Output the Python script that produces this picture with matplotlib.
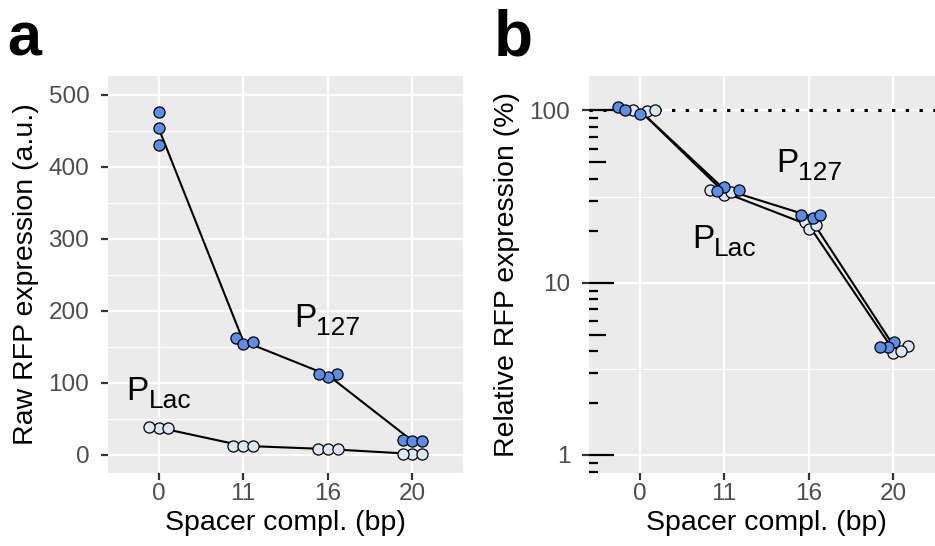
import numpy as np
import matplotlib.pyplot as plt
from matplotlib import transforms
from matplotlib.ticker import MultipleLocator, NullFormatter

plt.rcParams['font.family'] = ['Liberation Sans', 'DejaVu Sans']

# values (three replicates per spacer length)
spacer = ["0", "11", "16", "20"]
p127_raw = [[476, 454, 430], [163, 154, 157], [112.5, 108, 112.5], [20.4, 19.2, 19.3]]
plac_raw = [[37.8, 38.0, 38.2], [13.1, 12.2, 12.8], [8.6, 7.8, 8.2], [1.49, 1.62, 1.52]]

# relative expression = % of the mean at 0 bp
p127_rel = [[v / np.mean(p127_raw[0]) * 100 for v in reps] for reps in p127_raw]
plac_rel = [[v / np.mean(plac_raw[0]) * 100 for v in reps] for reps in plac_raw]

blue = '#5b8ee6'
light = '#dce7f8'
panel_bg = '#ebebeb'
ms = 8.0  # marker size, points

W, H = 935, 546
fig = plt.figure(figsize=(W / 100, H / 100), dpi=100)
ax_a = fig.add_axes([108 / W, 1 - 473 / H, 355 / W, 397 / H])
ax_b = fig.add_axes([589 / W, 1 - 473 / H, 355 / W, 397 / H])


def style_axes(ax):
    ax.set_facecolor(panel_bg)
    for s in ax.spines.values():
        s.set_visible(False)
    ax.set_axisbelow(True)
    ax.xaxis.grid(True, which='major', color='white', lw=1.6)
    ax.yaxis.grid(True, which='major', color='white', lw=1.6)
    ax.yaxis.grid(True, which='minor', color='white', lw=0.8)
    ax.tick_params(which='major', colors='#333333', labelcolor='#4d4d4d',
                   labelsize=17.5, length=5, width=1.6)
    ax.tick_params(axis='x', pad=2.5)
    ax.tick_params(axis='y', pad=8.5)
    ax.tick_params(which='minor', length=0)
    ax.set_xticks(range(len(spacer)), labels=spacer)
    ax.set_xlim(-0.6, len(spacer) - 0.4)
    ax.set_xlabel('Spacer compl. (bp)', fontsize=20.5, labelpad=3)


def swarm_x(ax, xc, values, spacing):
    # simple beeswarm in pixel space: lowest value first, nearest free spot
    pts = ax.transData.transform(np.column_stack([np.full(len(values), xc), values]))
    ys = pts[:, 1]
    placed = []
    dx_out = np.zeros(len(values))
    for i in np.argsort(ys, kind='stable'):
        cands = [0.0]
        for dx, y in placed:
            dy = abs(ys[i] - y)
            if dy < spacing:
                h = np.sqrt(spacing ** 2 - dy ** 2)
                cands += [dx + h, dx - h]
        cands.sort(key=lambda c: (round(abs(c), 6), -c))
        for c in cands:
            if all((c - dx) ** 2 + (ys[i] - y) ** 2 >= spacing ** 2 - 1e-6 for dx, y in placed):
                break
        placed.append((c, ys[i]))
        dx_out[i] = c
    px_unit = ax.transData.transform((1, 1))[0] - ax.transData.transform((0, 1))[0]
    return xc + dx_out / px_unit


def draw_lines(ax, data):
    means = [np.mean(r) for r in data]
    ax.plot(range(len(data)), means, color='black', lw=1.5, zorder=2)


def draw_points(ax, groups, together, squeeze):
    # groups: list of (data, colour), later groups drawn on top
    spacing = ms * fig.dpi / 72 * squeeze
    for i in range(len(spacer)):
        if together:
            vals = [v for data, _ in groups for v in data[i]]
            xs_all = swarm_x(ax, i, vals, spacing)
            xs_split, k = [], 0
            for data, _ in groups:
                xs_split.append(xs_all[k:k + len(data[i])])
                k += len(data[i])
        else:
            xs_split = [swarm_x(ax, i, data[i], spacing) for data, _ in groups]
        for z, ((data, color), xs) in enumerate(zip(groups, xs_split)):
            ax.plot(xs, data[i], 'o', ms=ms, mfc=color, mec='black', mew=0.9,
                    ls='none', zorder=3 + z)


def sub_label(ax, x, y, main, sub):
    t = ax.text(x, y, main, fontsize=24, ha='left', va='baseline', zorder=6)
    ax.annotate(sub, xy=(1, 0), xycoords=t, xytext=(0, -1),
                textcoords='offset pixels', fontsize=19, ha='left',
                va='baseline', zorder=6)


# panel a: raw expression
style_axes(ax_a)
ax_a.set_ylim(-25, 526)
ax_a.yaxis.set_major_locator(MultipleLocator(100))
ax_a.yaxis.set_minor_locator(MultipleLocator(50))
ax_a.yaxis.set_minor_formatter(NullFormatter())
ax_a.set_ylabel('Raw RFP expression (a.u.)', fontsize=20.5, labelpad=7)
draw_lines(ax_a, plac_raw)
draw_lines(ax_a, p127_raw)
draw_points(ax_a, [(plac_raw, light), (p127_raw, blue)], together=False, squeeze=0.88)
sub_label(ax_a, 1.6, 178, 'P', '127')
sub_label(ax_a, -0.38, 76, 'P', 'Lac')

# panel b: relative expression, log scale
style_axes(ax_b)
ax_b.set_yscale('log')
ax_b.set_ylim(10 ** -0.105, 10 ** 2.2)
ax_b.set_yticks([1, 10, 100], labels=['1', '10', '100'])
ax_b.set_yticks([10 ** 0.5, 10 ** 1.5], minor=True)
ax_b.yaxis.set_minor_formatter(NullFormatter())
ax_b.tick_params(which='minor', length=0)
ax_b.set_ylabel('Relative RFP expression (%)', fontsize=20.5, labelpad=7)
ax_b.axhline(100, color='black', lw=2.2, ls=(0, (1.1, 3.4)), zorder=1.5)

# log ticks drawn inside the panel (short / mid / long)
blend = transforms.blended_transform_factory(ax_b.transAxes, ax_b.transData)
lo, hi = ax_b.get_ylim()
for n in (-1, 0, 1, 2):
    for k in range(1, 10):
        v = k * 10 ** n
        if not lo <= v <= hi:
            continue
        length = 18 if k == 1 else (12 if k == 5 else 6.2)
        frac = length * fig.dpi / 72 / ax_b.bbox.width
        ax_b.plot([0, frac], [v, v], color='black', lw=1.6, transform=blend,
                  solid_capstyle='butt', zorder=5, clip_on=False)
ax_b.set_ylim(lo, hi)

draw_lines(ax_b, plac_rel)
draw_lines(ax_b, p127_rel)
draw_points(ax_b, [(plac_rel, light), (p127_rel, blue)], together=True, squeeze=0.72)
sub_label(ax_b, 1.61, 44, 'P', '127')
sub_label(ax_b, 0.62, 16, 'P', 'Lac')

fig.text(7 / W, 1 - 55 / H, 'a', fontsize=44, fontweight='bold', ha='left', va='baseline')
fig.text(494 / W, 1 - 55 / H, 'b', fontsize=46, fontweight='bold', ha='left', va='baseline')

fig.savefig('out.png', dpi=100)
